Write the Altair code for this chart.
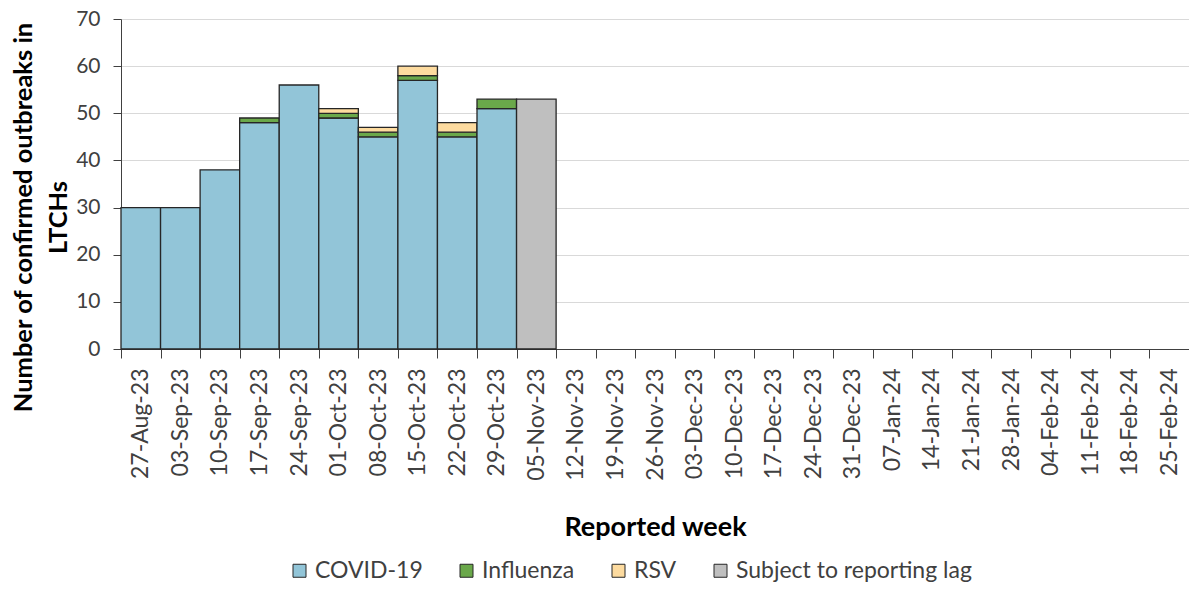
import altair as alt
import pandas as pd

weeks = ["27-Aug-23", "03-Sep-23", "10-Sep-23", "17-Sep-23", "24-Sep-23", "01-Oct-23",
         "08-Oct-23", "15-Oct-23", "22-Oct-23", "29-Oct-23", "05-Nov-23", "12-Nov-23",
         "19-Nov-23", "26-Nov-23", "03-Dec-23", "10-Dec-23", "17-Dec-23", "24-Dec-23",
         "31-Dec-23", "07-Jan-24", "14-Jan-24", "21-Jan-24", "28-Jan-24", "04-Feb-24",
         "11-Feb-24", "18-Feb-24", "25-Feb-24"]

covid = [30, 30, 38, 48, 56, 49, 45, 57, 45, 51]
influenza = [0, 0, 0, 1, 0, 1, 1, 1, 1, 2]
rsv = [0, 0, 0, 0, 0, 1, 1, 2, 2, 0]
lag_week = "05-Nov-23"
lag_value = 53

series_names = ["COVID-19", "Influenza", "RSV", "Subject to reporting lag"]
series_colors = ["#92C5D8", "#6AA84A", "#FDDB9F", "#BFBFBF"]

rows = []
for i, (c, f, r) in enumerate(zip(covid, influenza, rsv)):
    for k, (name, v) in enumerate(zip(series_names[:3], (c, f, r))):
        if v > 0:
            rows.append({"week": weeks[i], "series": name, "value": v, "order": k})
rows.append({"week": lag_week, "series": series_names[3], "value": lag_value, "order": 3})
df = pd.DataFrame(rows)

FONT = "Lato"

chart = alt.Chart(df).mark_bar(stroke="#262626", strokeWidth=1.3).encode(
    x=alt.X("week:N",
            scale=alt.Scale(domain=weeks, paddingInner=0, paddingOuter=0),
            axis=alt.Axis(title="Reported week", labelAngle=270, tickBand="extent",
                          grid=False, tickSize=9, labelPadding=10, labelFontSize=23,
                          labelFont=FONT, labelColor="#404040", domainColor="#404040",
                          tickColor="#404040", titleFont=FONT, titleFontSize=27,
                          titleFontWeight="bold", titleColor="#000000",
                          titleBaseline="middle", titleY=178)),
    y=alt.Y("value:Q", stack="zero",
            scale=alt.Scale(domain=[0, 70]),
            axis=alt.Axis(title=["Number of confirmed outbreaks in", "LTCHs"],
                          values=[0, 10, 20, 30, 40, 50, 60, 70], grid=True,
                          gridColor="#D9D9D9", tickSize=8, labelPadding=13,
                          labelFontSize=21, labelFont=FONT, labelColor="#404040",
                          domainColor="#404040", tickColor="#404040",
                          titleFont=FONT, titleFontSize=25.5, titleFontWeight="bold",
                          titleColor="#000000", titleAngle=270, titleAlign="center",
                          titleBaseline="middle", titleX=-98, titleY=198,
                          titleLineHeight=35)),
    color=alt.Color("series:N",
                    scale=alt.Scale(domain=series_names, range=series_colors),
                    legend=alt.Legend(title=None, orient="none", direction="horizontal",
                                      legendX=167, legendY=540, symbolType="square",
                                      symbolSize=169, symbolStrokeColor="#262626",
                                      symbolStrokeWidth=1, symbolOpacity=1,
                                      labelFont=FONT, labelFontSize=23,
                                      labelColor="#404040", labelOffset=4,
                                      labelLimit=400, columnPadding=32, padding=0)),
    order=alt.Order("order:Q"),
).properties(
    width=1068, height=330,
    autosize=alt.AutoSizeParams(type="none"),
    padding={"left": 113, "top": 11, "right": 0, "bottom": 235},
).configure_view(stroke=None)

chart.save("out.html", embed_options={"renderer": "svg", "actions": False})
